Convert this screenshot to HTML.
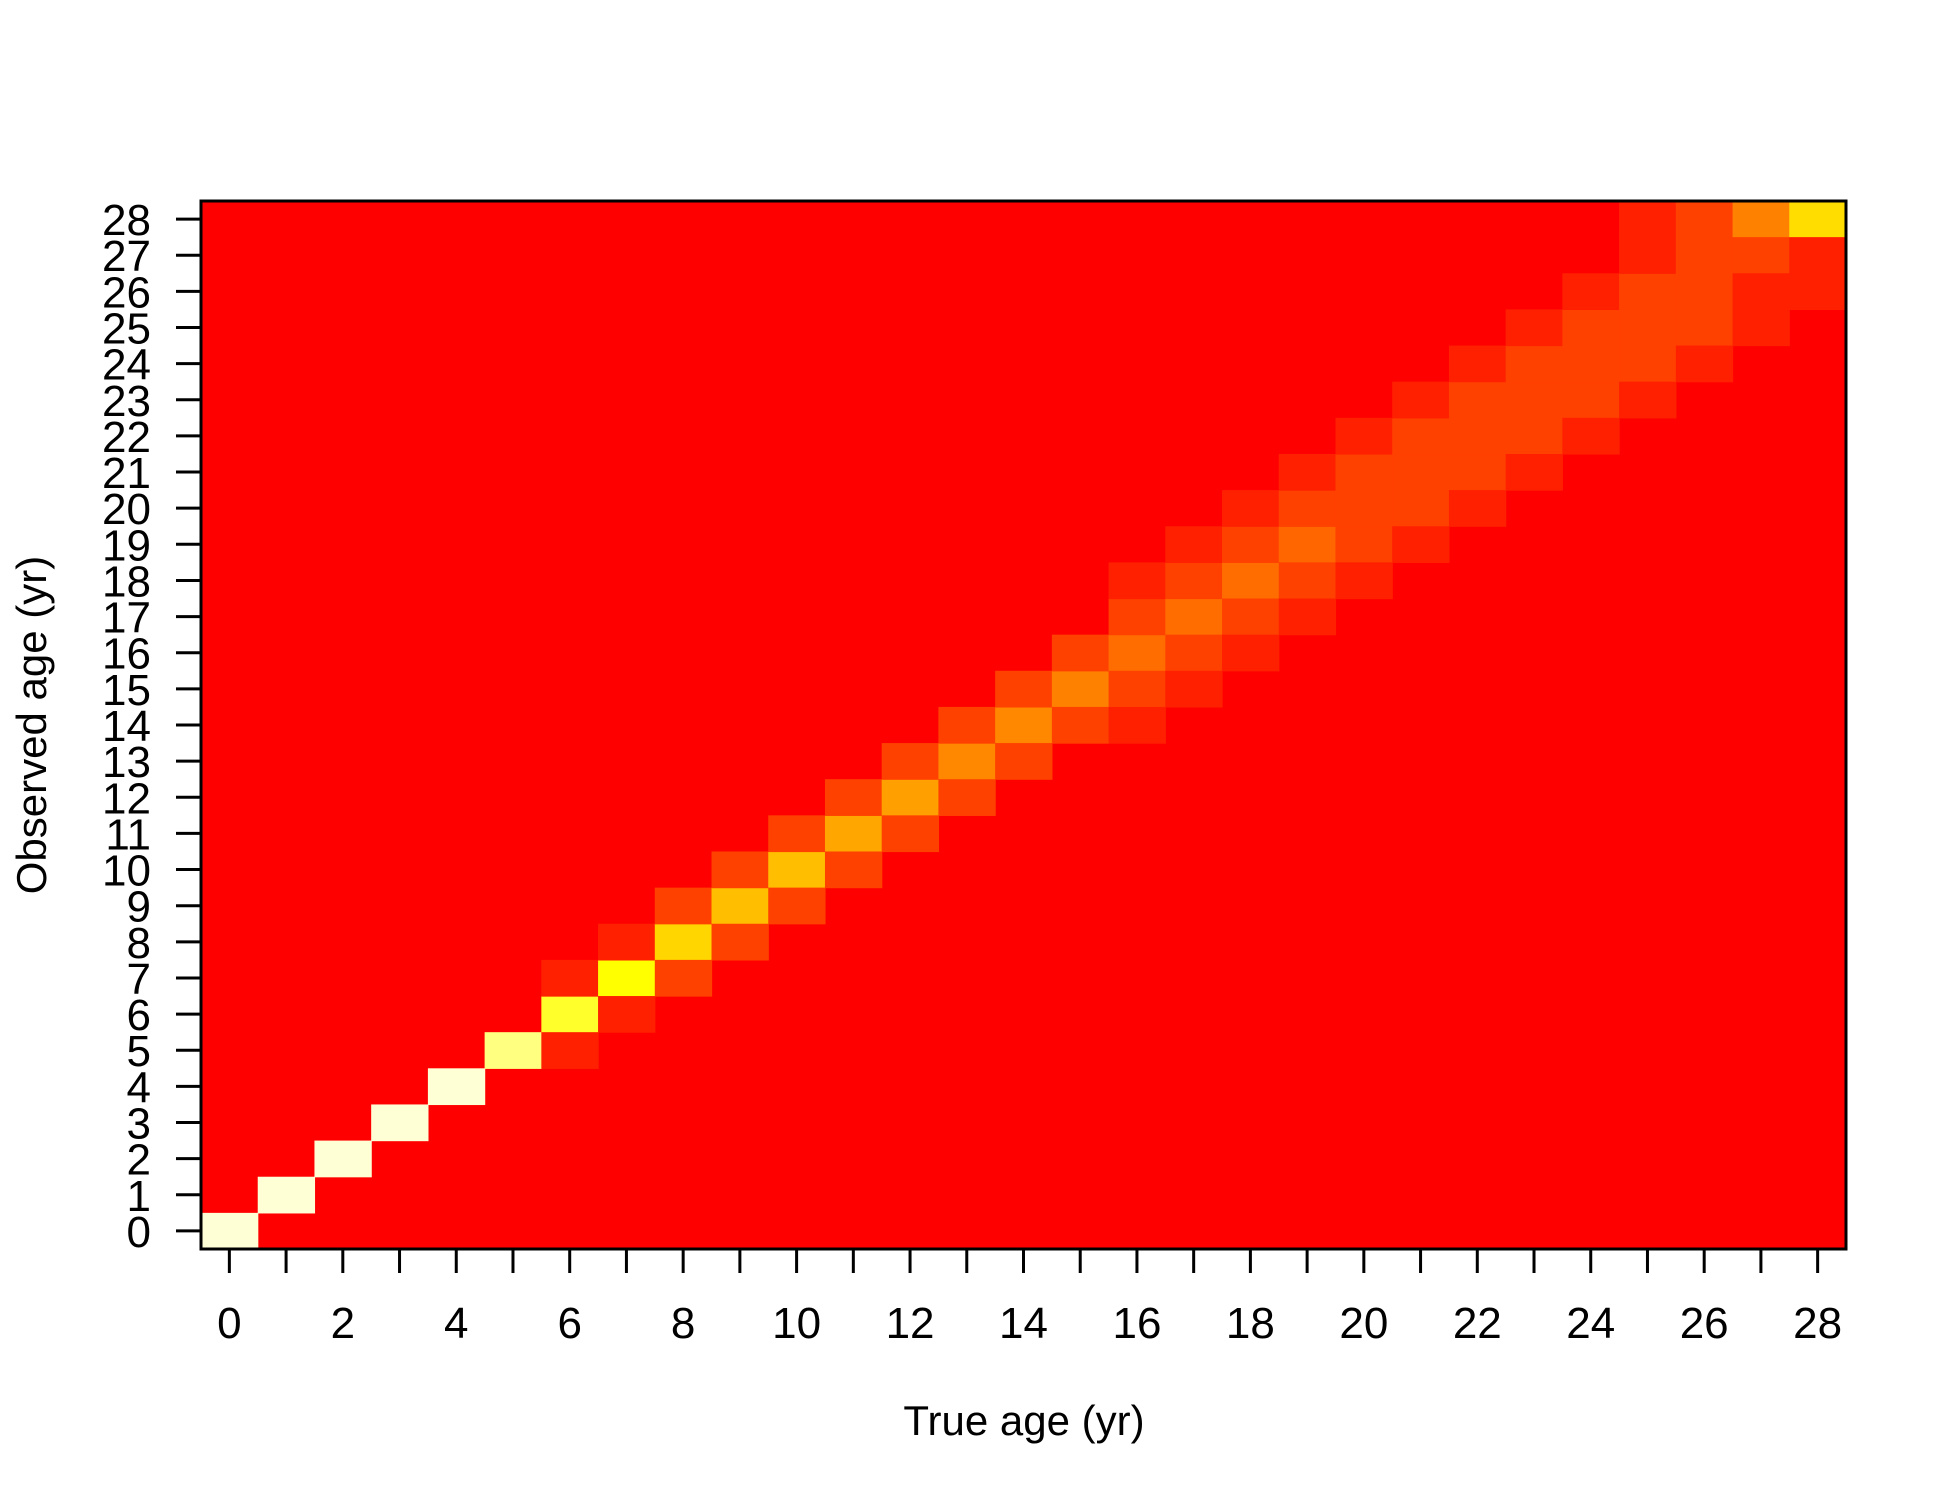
<!DOCTYPE html>
<html><head><meta charset="utf-8"><style>
html,body{margin:0;padding:0;background:#fff;width:1950px;height:1500px;overflow:hidden}
text{font-family:"Liberation Sans",Arial,sans-serif;fill:#000}
</style></head><body>
<svg id="chart" width="1950" height="1500" xmlns="http://www.w3.org/2000/svg">
<g id="cells"></g>
<g id="axes"></g>
<text x="1024" y="1435" font-size="42" text-anchor="middle">True age (yr)</text>
<text transform="translate(46,725) rotate(-90)" font-size="42" text-anchor="middle">Observed age (yr)</text>
</svg>
<script>
// True ages (columns) and observed ages (rows)
const trueAges = [0,1,2,3,4,5,6,7,8,9,10,11,12,13,14,15,16,17,18,19,20,21,22,23,24,25,26,27,28];
const obsAges = trueAges.slice();
// Non-background cells: [trueAge, observedAge, value]
const cellTrue = [0,1,2,3,4,5,6,6,6,7,7,7,8,8,8,9,9,9,10,10,10,11,11,11,12,12,12,13,13,13,14,14,14,15,15,15,
 16,16,16,16,16,17,17,17,17,17,18,18,18,18,18,19,19,19,19,19,20,20,20,20,20,21,21,21,21,21,22,22,22,22,22,
 23,23,23,23,23,24,24,24,24,24,25,25,25,25,25,25,26,26,26,26,26,27,27,27,27,28,28,28];
const cellObs = [0,1,2,3,4,5,6,5,7,7,6,8,8,7,9,9,8,10,10,9,11,11,10,12,12,11,13,13,12,14,14,13,15,15,14,16,
 16,15,17,14,18,17,16,18,15,19,18,17,19,16,20,19,18,20,17,21,19,20,21,18,22,20,21,22,19,23,21,22,23,20,24,
 22,23,24,21,25,23,24,25,22,26,24,25,26,23,27,28,25,26,27,28,24,28,27,26,25,28,27,26];
const cellVal = [1,1,1,1,1,0.9,0.8,0.094,0.094,0.75,0.094,0.094,0.63,0.19,0.19,0.56,0.19,0.19,0.56,0.19,0.19,0.49,0.19,0.19,0.47,0.19,0.19,0.40,0.19,0.19,0.40,0.19,0.19,0.38,0.19,0.19,
 0.32,0.19,0.19,0.094,0.094,0.32,0.19,0.19,0.094,0.094,0.32,0.19,0.19,0.094,0.094,0.30,0.19,0.19,0.094,0.094,0.19,0.19,0.19,0.094,0.094,0.19,0.19,0.19,0.094,0.094,0.19,0.19,0.19,0.094,0.094,
 0.19,0.19,0.19,0.094,0.094,0.19,0.19,0.19,0.094,0.094,0.19,0.19,0.19,0.094,0.094,0.094,0.19,0.19,0.19,0.19,0.094,0.38,0.19,0.094,0.094,0.65,0.094,0.094];
const xTickLabels = [0,2,4,6,8,10,12,14,16,18,20,22,24,26,28];

const NS="http://www.w3.org/2000/svg";
const L=201,R=1846,T=201,B=1249;
const n=trueAges.length;
const cw=(R-L)/n, ch=(B-T)/n;
function xPos(a){return L+(a-trueAges[0])*cw;}
function yPos(a){return B-(a-obsAges[0]+1)*ch;}
function color(v){
  if(v<=0.75){const g=Math.round(255*(v/0.75));return `rgb(255,${g},0)`;}
  const b=Math.round(Math.min(1,(v-0.75)/0.25)*213);return `rgb(255,255,${b})`;
}
const cells=document.getElementById('cells');
const bg=document.createElementNS(NS,'rect');
bg.setAttribute('x',L);bg.setAttribute('y',T);bg.setAttribute('width',R-L);bg.setAttribute('height',B-T);bg.setAttribute('fill','#ff0000');


cells.appendChild(bg);
for(let i=0;i<cellVal.length;i++){
  const r=document.createElementNS(NS,'rect');
  r.setAttribute('x',xPos(cellTrue[i]));r.setAttribute('y',yPos(cellObs[i]));
  r.setAttribute('width',cw+0.6);r.setAttribute('height',ch+0.6);
  r.setAttribute('fill',color(cellVal[i]));
  
  
  cells.appendChild(r);
}
const axes=document.getElementById('axes');
const frame=document.createElementNS(NS,'rect');
frame.setAttribute('x',L);frame.setAttribute('y',T);frame.setAttribute('width',R-L);frame.setAttribute('height',B-T);
frame.setAttribute('fill','none');frame.setAttribute('stroke','#000');frame.setAttribute('stroke-width','3');


axes.appendChild(frame);
trueAges.forEach(a=>{
  const x=xPos(a)+cw/2;
  const t=document.createElementNS(NS,'line');
  t.setAttribute('x1',x);t.setAttribute('x2',x);t.setAttribute('y1',B);t.setAttribute('y2',B+24);
  t.setAttribute('stroke','#000');t.setAttribute('stroke-width','3');
  
  
  axes.appendChild(t);
});
xTickLabels.forEach(a=>{
  const tx=document.createElementNS(NS,'text');
  tx.setAttribute('x',xPos(a)+cw/2);tx.setAttribute('y',1338);
  tx.setAttribute('font-size','44');tx.setAttribute('text-anchor','middle');
  tx.textContent=a;
  
  
  axes.appendChild(tx);
});
obsAges.forEach(a=>{
  const y=yPos(a)+ch/2;
  const t=document.createElementNS(NS,'line');
  t.setAttribute('x1',L-25);t.setAttribute('x2',L);t.setAttribute('y1',y);t.setAttribute('y2',y);
  t.setAttribute('stroke','#000');t.setAttribute('stroke-width','3');
  
  
  axes.appendChild(t);
  const tx=document.createElementNS(NS,'text');
  tx.setAttribute('x',151);tx.setAttribute('y',y+16);
  tx.setAttribute('font-size','44');tx.setAttribute('text-anchor','end');
  tx.textContent=a;
  
  
  axes.appendChild(tx);
});
</script>
</body></html>
